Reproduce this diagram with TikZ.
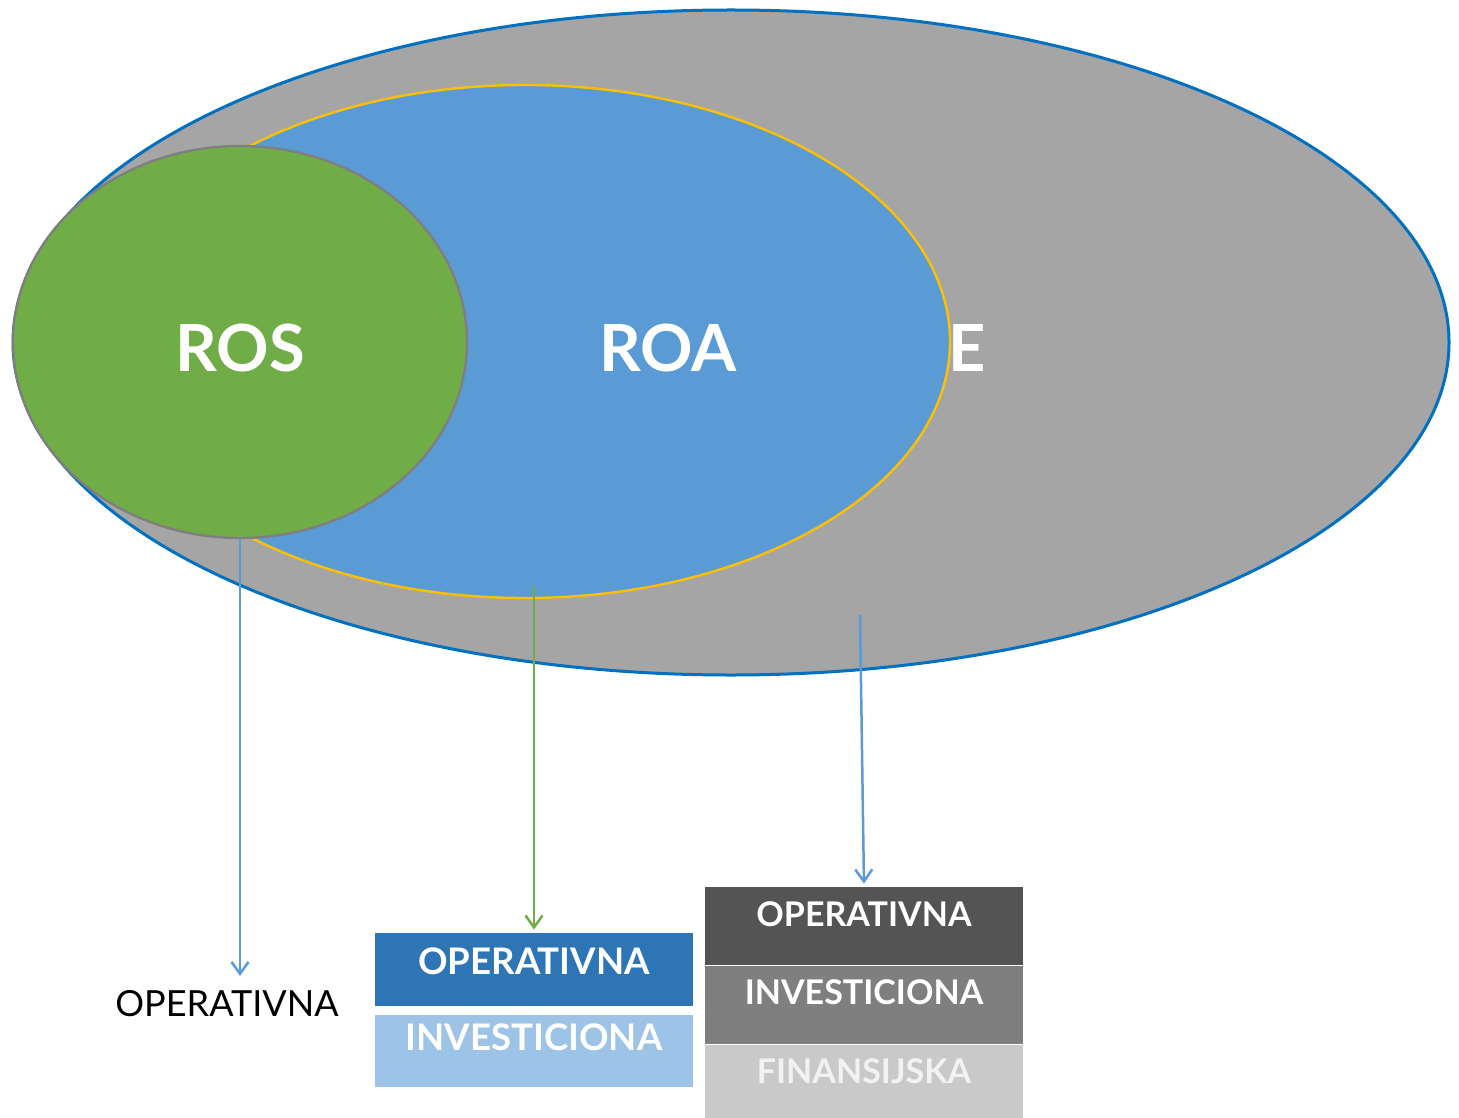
\documentclass[tikz,border=0pt]{standalone}
\usepackage{fontspec}
\setmainfont{Lato}
\usetikzlibrary{shapes,positioning,arrows.meta}
\definecolor{outerGray}{HTML}{A5A5A5}
\definecolor{outerBlue}{HTML}{0070C0}
\definecolor{roaBlue}{HTML}{5B9BD5}
\definecolor{roaGold}{HTML}{FFC000}
\definecolor{rosGreen}{HTML}{70AD47}
\definecolor{rosEdge}{HTML}{7F7F7F}
\definecolor{boxBlue}{HTML}{2E75B6}
\definecolor{boxLightBlue}{HTML}{9DC3E6}
\definecolor{boxDark}{HTML}{545454}
\definecolor{boxMid}{HTML}{7F7F7F}
\definecolor{boxLight}{HTML}{C9C9C9}
\tikzstyle{bigEllipse} = [ellipse, draw, inner sep=0pt]
\tikzstyle{bigLabel}   = [text=white, font=\fontsize{32.5}{40}\selectfont\bfseries]
\tikzstyle{stackBox}   = [rectangle, inner sep=0pt, minimum width=159pt,
    text=white, font=\fontsize{18.3}{22}\selectfont\bfseries]
\tikzstyle{line} = [draw, -{Straight Barb[length=6pt,width=8.5pt]}, line width=1.25pt]

\begin{document}
\begin{tikzpicture}[x=0.5pt,y=-0.5pt]
    \useasboundingbox (0,0) rectangle (1459,1117);
    % Place ellipses
    \node [bigEllipse, fill=outerGray, draw=outerBlue, line width=1.5pt,
        minimum width=718pt, minimum height=332.5pt] (roeEllipse) at (731,342.5) {};
    \node [bigEllipse, fill=roaBlue, draw=roaGold, line width=1.2pt,
        minimum width=425pt, minimum height=256.5pt] (roaEllipse) at (525,341.5) {};
    \node [bigEllipse, fill=rosGreen, draw=rosEdge, line width=1.2pt,
        minimum width=227pt, minimum height=196pt] (rosEllipse) at (240,342) {};
    \node [bigLabel] (rosLabel) at (240,348) {ROS};
    \node [bigLabel] (roaLabel) at (668,348) {ROA};
    \node [bigLabel] (roeLabel) at (967,348) {E};

    % Place boxes
    \node [font=\fontsize{18}{22}\selectfont] (rosOp) at (227,1004) {OPERATIVNA};
    \node [stackBox, fill=boxBlue, text height=20.5pt, text depth=16pt] (roaOp) at (534,969.5) {OPERATIVNA};
    \node [stackBox, fill=boxLightBlue, text height=18pt, text depth=18pt, below=4pt of roaOp] (roaInv) {INVESTICIONA};
    \node [stackBox, fill=boxDark, font=\fontsize{17}{21}\selectfont\bfseries, text height=19.5pt, text depth=19.5pt] (roeOp) at (864,926) {OPERATIVNA};
    \node [stackBox, fill=boxMid, font=\fontsize{17}{21}\selectfont\bfseries, text height=19.5pt, text depth=19.5pt, below=0pt of roeOp] (roeInv) {INVESTICIONA};
    \node [stackBox, fill=boxLight, text=white!95!black, font=\fontsize{17}{21}\selectfont\bfseries, text height=19.5pt, text depth=19.5pt, below=0pt of roeInv] (roeFin) {FINANSIJSKA};

    \coordinate (rosTip) at (240,976);
    \coordinate (roaStart) at (534,585);
    \coordinate (roeStart) at (860,615);

    \path [line, draw=roaBlue] (rosEllipse.south) -- (rosTip);
    \path [line, draw=rosGreen, shorten >=1.5pt] (roaStart) -- (roaOp.north);
    \path [line, draw=roaBlue, shorten >=1.5pt] (roeStart) -- (roeOp.north);
\end{tikzpicture}
\end{document}
